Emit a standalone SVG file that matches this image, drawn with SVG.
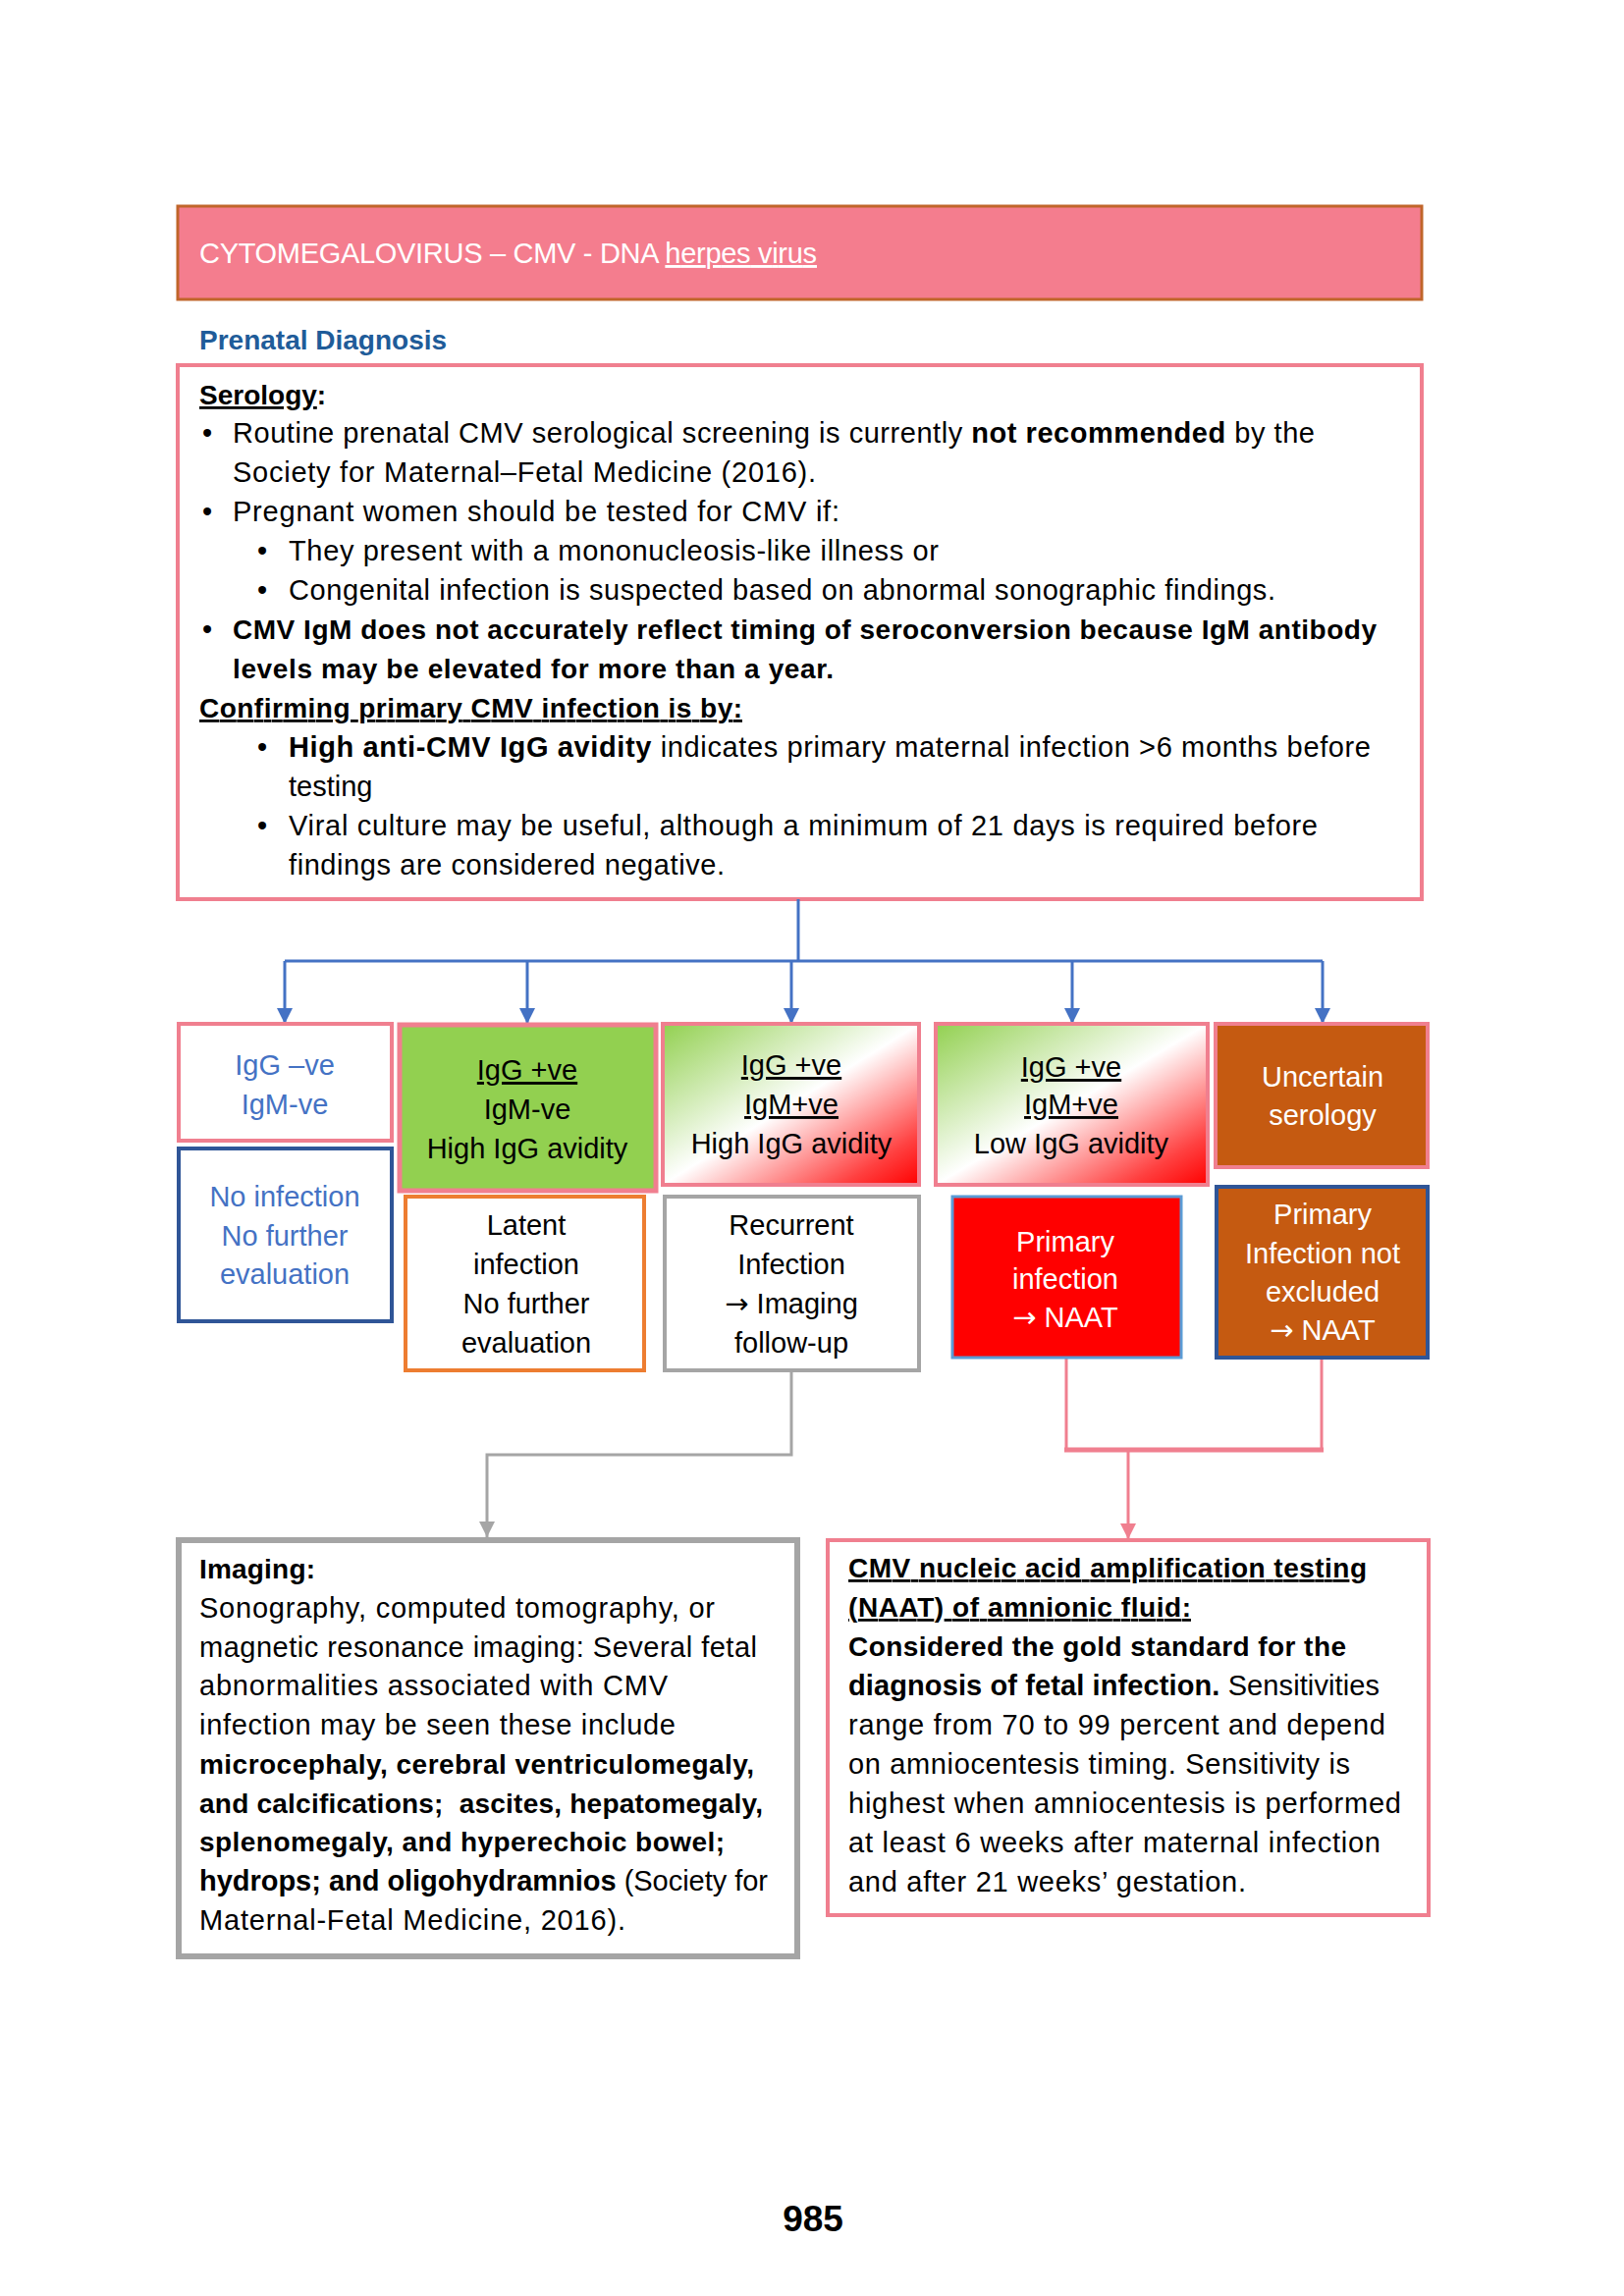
<svg xmlns="http://www.w3.org/2000/svg" width="1654" height="2339" viewBox="0 0 1654 2339">
<style>
  text { font-family: "Liberation Sans", Arial, sans-serif; }
  .t { font-size: 29px; fill: #000; }
  .tb { font-size: 28px; fill: #000; font-weight: bold; }
  .b { font-weight: bold; }
  .u { text-decoration: underline; }
  .ar { font-family: "DejaVu Sans", sans-serif; }
  .bx { font-size: 29px; text-anchor: middle; }
  .blue { fill: #4472C4; }
  .wh { fill: #FFFFFF; }
  .bk { fill: #000000; }
  .pink { fill: none; stroke: #F07F8F; stroke-width: 4; }
  .conn-blue { fill: none; stroke: #4472C4; stroke-width: 3; }
  .conn-gray { fill: none; stroke: #A5A5A5; stroke-width: 3; }
  .conn-pink { fill: none; stroke: #F07F8F; stroke-width: 3; }
</style>
<defs>
  <linearGradient id="grad" x1="0" y1="0" x2="1" y2="1">
    <stop offset="0" stop-color="#92D050"/>
    <stop offset="0.5" stop-color="#FFFFFF"/>
    <stop offset="0.85" stop-color="#FF4040"/>
    <stop offset="1" stop-color="#FF0000"/>
  </linearGradient>
  <marker id="ab" markerUnits="userSpaceOnUse" markerWidth="18" markerHeight="18" refX="16" refY="9" orient="auto">
    <path d="M0,1 L16,9 L0,17 z" fill="#4472C4"/>
  </marker>
  <marker id="ag" markerUnits="userSpaceOnUse" markerWidth="18" markerHeight="18" refX="16" refY="9" orient="auto">
    <path d="M0,1 L16,9 L0,17 z" fill="#A5A5A5"/>
  </marker>
  <marker id="ap" markerUnits="userSpaceOnUse" markerWidth="18" markerHeight="18" refX="16" refY="9" orient="auto">
    <path d="M0,1 L16,9 L0,17 z" fill="#F07F8F"/>
  </marker>
</defs>
<rect width="1654" height="2339" fill="#FFFFFF"/>

<g id="title">
  <rect x="181" y="210" width="1267" height="95" fill="#F47D8E" stroke="#C0652A" stroke-width="3"/>
  <text x="203" y="268" class="t wh" textLength="629">CYTOMEGALOVIRUS – CMV - DNA <tspan class="u">herpes virus</tspan></text>
</g>

<g id="heading">
  <text x="203" y="356" class="tb" style="fill:#1F5C99">Prenatal Diagnosis</text>
</g>

<g id="main-box">
  <rect x="181" y="372" width="1267" height="544" fill="#FFFFFF" class="pink"/>
  <text x="203" y="412" class="tb"><tspan class="u">Serology</tspan>:</text>
  <text x="206" y="451" class="t">•</text>
  <text x="237" y="451" class="t" textLength="1102">Routine prenatal CMV serological screening is currently <tspan class="b">not recommended</tspan> by the</text>
  <text x="237" y="491" class="t" textLength="594">Society for Maternal–Fetal Medicine (2016).</text>
  <text x="206" y="531" class="t">•</text>
  <text x="237" y="531" class="t" textLength="618">Pregnant women should be tested for CMV if:</text>
  <text x="262" y="571" class="t">•</text>
  <text x="294" y="571" class="t" textLength="662">They present with a mononucleosis-like illness or</text>
  <text x="262" y="611" class="t">•</text>
  <text x="294" y="611" class="t" textLength="1005">Congenital infection is suspected based on abnormal sonographic findings.</text>
  <text x="206" y="651" class="t">•</text>
  <text x="237" y="651" class="tb" textLength="1165">CMV IgM does not accurately reflect timing of seroconversion because IgM antibody</text>
  <text x="237" y="691" class="tb" textLength="612">levels may be elevated for more than a year.</text>
  <text x="203" y="731" class="tb u" textLength="553">Confirming primary CMV infection is by:</text>
  <text x="262" y="771" class="t">•</text>
  <text x="294" y="771" class="t" textLength="1102"><tspan class="b">High anti-CMV IgG avidity</tspan> indicates primary maternal infection &gt;6 months before</text>
  <text x="294" y="811" class="t">testing</text>
  <text x="262" y="851" class="t">•</text>
  <text x="294" y="851" class="t" textLength="1048">Viral culture may be useful, although a minimum of 21 days is required before</text>
  <text x="294" y="891" class="t" textLength="444">findings are considered negative.</text>
</g>

<g id="connectors">
  <path class="conn-blue" d="M813 916 V979 M290 979 H1347"/>
  <path class="conn-blue" d="M290 979 V1043" marker-end="url(#ab)"/>
  <path class="conn-blue" d="M537 979 V1043" marker-end="url(#ab)"/>
  <path class="conn-blue" d="M806 979 V1043" marker-end="url(#ab)"/>
  <path class="conn-blue" d="M1092 979 V1043" marker-end="url(#ab)"/>
  <path class="conn-blue" d="M1347 979 V1043" marker-end="url(#ab)"/>
  <path class="conn-gray" d="M806 1398 V1482 H496 V1566" marker-end="url(#ag)"/>
  <path class="conn-pink" d="M1086 1384 V1477 M1346 1384 V1477"/>
  <path fill="none" stroke="#F07F8F" stroke-width="5" d="M1084 1477 H1348"/>
  <path class="conn-pink" d="M1149 1477 V1568" marker-end="url(#ap)"/>
</g>

<g id="igg-neg">
  <rect x="182" y="1043" width="217" height="119" fill="#FFFFFF" stroke="#F07F8F" stroke-width="4"/>
  <text x="290" y="1095" class="bx blue">IgG –ve</text>
  <text x="290" y="1135" class="bx blue">IgM-ve</text>
</g>

<g id="no-infection">
  <rect x="182" y="1170" width="217" height="176" fill="#FFFFFF" stroke="#2F5597" stroke-width="4"/>
  <text x="290" y="1229" class="bx blue">No infection</text>
  <text x="290" y="1269" class="bx blue">No further</text>
  <text x="290" y="1308" class="bx blue">evaluation</text>
</g>

<g id="igg-pos-igm-neg">
  <rect x="407" y="1044" width="261" height="169" fill="#92D050" stroke="#F07F8F" stroke-width="5"/>
  <text x="537" y="1100" class="bx bk u">IgG +ve</text>
  <text x="537" y="1140" class="bx bk">IgM-ve</text>
  <text x="537" y="1180" class="bx bk">High IgG avidity</text>
</g>

<g id="latent">
  <rect x="413" y="1219" width="243" height="177" fill="#FFFFFF" stroke="#ED7D31" stroke-width="4"/>
  <text x="536" y="1258" class="bx bk">Latent</text>
  <text x="536" y="1298" class="bx bk">infection</text>
  <text x="536" y="1338" class="bx bk">No further</text>
  <text x="536" y="1378" class="bx bk">evaluation</text>
</g>

<g id="igg-pos-igm-pos-high">
  <rect x="675" y="1043" width="261" height="164" fill="url(#grad)" stroke="#F07F8F" stroke-width="4"/>
  <text x="806" y="1095" class="bx bk u">IgG +ve</text>
  <text x="806" y="1135" class="bx bk u">IgM+ve</text>
  <text x="806" y="1175" class="bx bk">High IgG avidity</text>
</g>

<g id="recurrent">
  <rect x="677" y="1219" width="259" height="177" fill="#FFFFFF" stroke="#A5A5A5" stroke-width="4"/>
  <text x="806" y="1258" class="bx bk">Recurrent</text>
  <text x="806" y="1298" class="bx bk">Infection</text>
  <text x="806" y="1338" class="bx bk"><tspan class="ar">→</tspan> Imaging</text>
  <text x="806" y="1378" class="bx bk">follow-up</text>
</g>

<g id="igg-pos-igm-pos-low">
  <rect x="953" y="1043" width="277" height="164" fill="url(#grad)" stroke="#F07F8F" stroke-width="4"/>
  <text x="1091" y="1097" class="bx bk u">IgG +ve</text>
  <text x="1091" y="1135" class="bx bk u">IgM+ve</text>
  <text x="1091" y="1175" class="bx bk">Low IgG avidity</text>
</g>

<g id="primary-infection">
  <rect x="970" y="1219" width="233" height="164" fill="#FF0000" stroke="#5B9BD5" stroke-width="3"/>
  <text x="1085" y="1275" class="bx wh">Primary</text>
  <text x="1085" y="1313" class="bx wh">infection</text>
  <text x="1085" y="1352" class="bx wh"><tspan class="ar">→</tspan> NAAT</text>
</g>

<g id="uncertain">
  <rect x="1238" y="1043" width="216" height="146" fill="#C55A11" stroke="#F07F8F" stroke-width="4"/>
  <text x="1347" y="1107" class="bx wh">Uncertain</text>
  <text x="1347" y="1146" class="bx wh">serology</text>
</g>

<g id="not-excluded">
  <rect x="1239" y="1209" width="215" height="174" fill="#C55A11" stroke="#2F5597" stroke-width="4"/>
  <text x="1347" y="1247" class="bx wh">Primary</text>
  <text x="1347" y="1287" class="bx wh">Infection not</text>
  <text x="1347" y="1326" class="bx wh">excluded</text>
  <text x="1347" y="1365" class="bx wh"><tspan class="ar">→</tspan> NAAT</text>
</g>

<g id="imaging">
  <rect x="182" y="1569" width="630" height="424" fill="#FFFFFF" stroke="#A5A5A5" stroke-width="6"/>
  <text x="203" y="1608" class="tb" textLength="118">Imaging:</text>
  <text x="203" y="1648" class="t" textLength="525">Sonography, computed tomography, or</text>
  <text x="203" y="1688" class="t" textLength="568">magnetic resonance imaging: Several fetal</text>
  <text x="203" y="1727" class="t" textLength="477">abnormalities associated with CMV</text>
  <text x="203" y="1767" class="t" textLength="485">infection may be seen these include</text>
  <text x="203" y="1807" class="tb" textLength="565">microcephaly, cerebral ventriculomegaly,</text>
  <text x="203" y="1847" class="tb" textLength="574" xml:space="preserve">and calcifications;  ascites, hepatomegaly,</text>
  <text x="203" y="1886" class="tb" textLength="535">splenomegaly, and hyperechoic bowel;</text>
  <text x="203" y="1926" class="t" textLength="579"><tspan class="b">hydrops; and oligohydramnios</tspan> (Society for</text>
  <text x="203" y="1966" class="t" textLength="434">Maternal-Fetal Medicine, 2016).</text>
</g>

<g id="naat">
  <rect x="843" y="1569" width="612" height="382" fill="#FFFFFF" stroke="#F07F8F" stroke-width="4"/>
  <text x="864" y="1607" class="tb u" textLength="528">CMV nucleic acid amplification testing</text>
  <text x="864" y="1647" class="tb u" textLength="349">(NAAT) of amnionic fluid:</text>
  <text x="864" y="1687" class="tb" textLength="507">Considered the gold standard for the</text>
  <text x="864" y="1727" class="t" textLength="541"><tspan class="b">diagnosis of fetal infection.</tspan> Sensitivities</text>
  <text x="864" y="1767" class="t" textLength="547">range from 70 to 99 percent and depend</text>
  <text x="864" y="1807" class="t" textLength="511">on amniocentesis timing. Sensitivity is</text>
  <text x="864" y="1847" class="t" textLength="563">highest when amniocentesis is performed</text>
  <text x="864" y="1887" class="t" textLength="542">at least 6 weeks after maternal infection</text>
  <text x="864" y="1927" class="t" textLength="405">and after 21 weeks’ gestation.</text>
</g>

<g id="page-number">
  <text x="828" y="2273" font-size="37" font-weight="bold" text-anchor="middle" fill="#000">985</text>
</g>
</svg>
